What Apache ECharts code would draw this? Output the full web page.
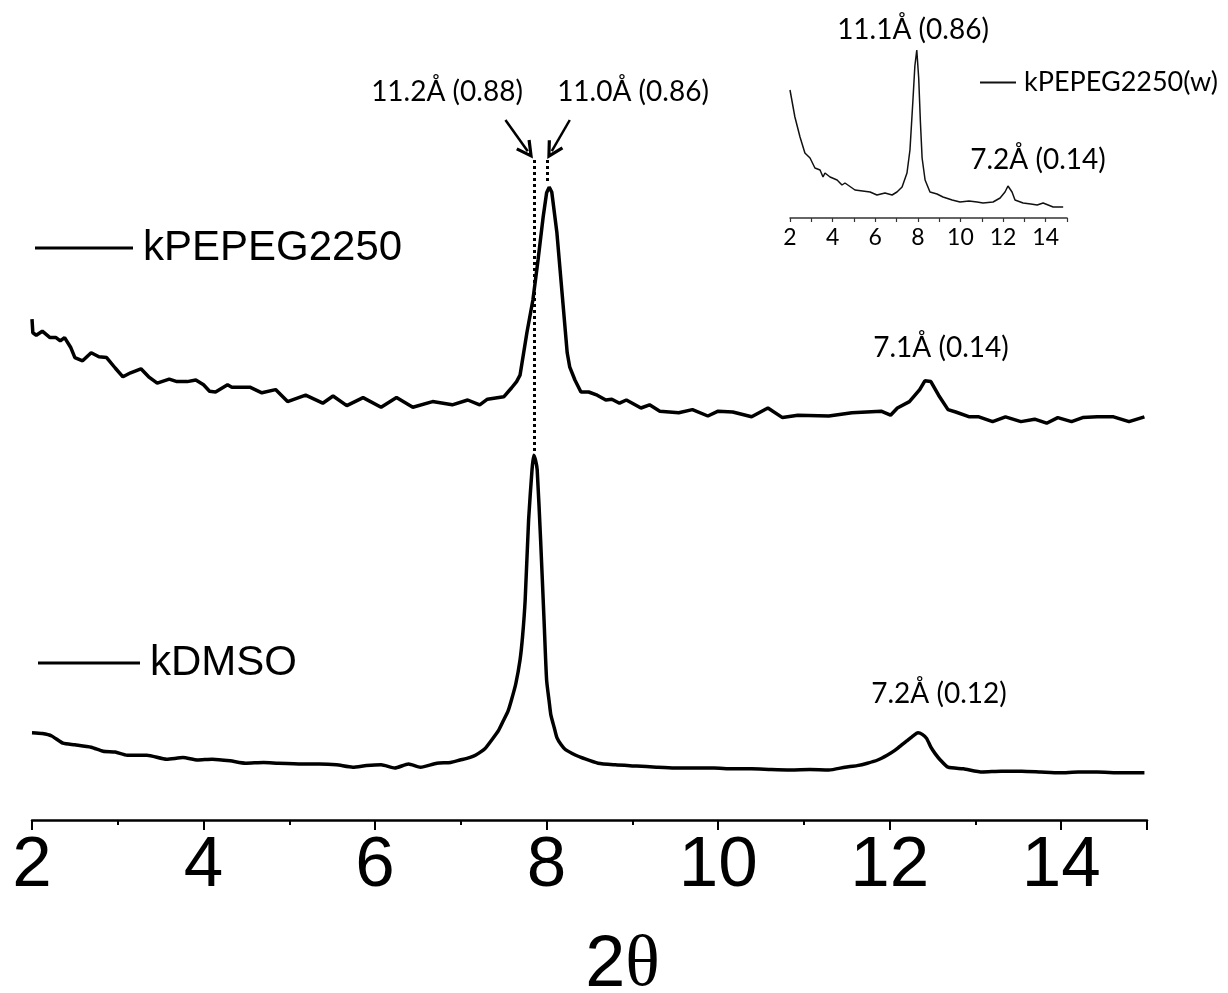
<!DOCTYPE html>
<html>
<head>
<meta charset="utf-8">
<title>XRD patterns</title>
<script src="https://cdn.jsdelivr.net/npm/echarts@6/dist/echarts.min.js"></script>
<style>
  html, body { margin: 0; padding: 0; background: #fff; }
  #chart { width: 1228px; height: 993px; }
</style>
</head>
<body>
<div id="chart"></div>
<script>
// Diffraction patterns, intensity in arbitrary units (curves offset vertically)
const xTickLabels = [2, 4, 6, 8, 10, 12, 14];

const pepegTheta = [2.00, 2.01, 2.05, 2.12, 2.21, 2.28, 2.33, 2.38, 2.45, 2.50, 2.59, 2.69, 2.78, 2.87, 2.97,
  3.06, 3.15, 3.27, 3.36, 3.46, 3.60, 3.69, 3.81, 3.91, 4.00, 4.07, 4.14, 4.28, 4.33, 4.54, 4.68, 4.84,
  4.98, 5.19, 5.39, 5.51, 5.67, 5.86, 6.07, 6.25, 6.44, 6.67, 6.90, 7.08, 7.22, 7.31, 7.50, 7.59, 7.65,
  7.69, 7.77, 7.84, 7.90, 7.96, 8.00, 8.03, 8.06, 8.12, 8.18, 8.24, 8.27, 8.33, 8.40, 8.49, 8.59, 8.69,
  8.76, 8.85, 8.93, 9.10, 9.20, 9.32, 9.54, 9.70, 9.88, 10.00, 10.17, 10.39, 10.58, 10.75, 10.93, 11.29,
  11.56, 11.90, 12.01, 12.09, 12.23, 12.35, 12.41, 12.48, 12.57, 12.68, 12.77, 12.93, 13.04, 13.20,
  13.35, 13.53, 13.69, 13.83, 13.96, 14.12, 14.25, 14.42, 14.61, 14.79, 14.97];
const pepegCounts = [62.6, 60.9, 60.6, 61.1, 60.3, 60.3, 59.9, 60.3, 59.1, 57.8, 57.4, 58.4, 57.9, 57.8, 56.5,
  55.4, 55.9, 56.4, 55.4, 54.6, 55.1, 54.8, 54.8, 55.0, 54.4, 53.6, 53.5, 54.4, 54.1, 54.1, 53.4, 53.8,
  52.3, 53.1, 52.1, 53.0, 51.8, 52.8, 51.6, 52.8, 51.6, 52.3, 51.9, 52.5, 51.9, 52.6, 52.9, 54.0, 54.8,
  55.6, 60.9, 65.0, 70.0, 75.4, 78.4, 79.1, 78.5, 73.4, 65.9, 58.4, 56.6, 55.0, 53.5, 53.5, 53.1, 52.5,
  52.6, 52.1, 52.5, 51.5, 51.9, 51.1, 50.9, 51.3, 50.5, 51.1, 51.0, 50.4, 51.5, 50.3, 50.6, 50.5,
  50.9, 51.1, 50.6, 51.5, 52.3, 53.8, 54.9, 54.8, 53.1, 51.3, 51.0, 50.4, 50.4, 49.8,
  50.4, 49.8, 50.1, 49.6, 50.3, 49.8, 50.3, 50.4, 50.4, 49.8, 50.4];

const dmsoTheta = [2.00, 2.12, 2.23, 2.36, 2.50, 2.69, 2.83, 2.97, 3.11, 3.34, 3.57, 3.76, 3.93, 4.10, 4.31,
  4.49, 4.70, 4.87, 5.15, 5.35, 5.55, 5.74, 5.90, 6.07, 6.23, 6.39, 6.53, 6.72, 6.88, 6.99, 7.10, 7.17,
  7.28, 7.36, 7.44, 7.50, 7.55, 7.59, 7.64, 7.69, 7.72, 7.75, 7.79, 7.83, 7.85, 7.87, 7.89, 7.93, 7.97,
  8.00, 8.03, 8.05, 8.09, 8.12, 8.17, 8.22, 8.34, 8.42, 8.60, 8.80, 9.05, 9.28, 9.49, 9.72, 9.95, 10.17,
  10.39, 10.62, 10.85, 11.07, 11.29, 11.48, 11.62, 11.74, 11.86, 11.97, 12.06, 12.14, 12.20, 12.26,
  12.33, 12.38, 12.43, 12.48, 12.53, 12.59, 12.68, 12.86, 13.08, 13.30, 13.54, 13.76, 13.98, 14.20,
  14.42, 14.70, 14.97];
const dmsoCounts = [10.9, 10.8, 10.5, 9.6, 9.4, 9.1, 8.6, 8.5, 8.1, 8.1, 7.6, 7.8, 7.5, 7.6, 7.4,
  7.1, 7.2, 7.1, 7.0, 7.0, 6.9, 6.6, 6.8, 6.9, 6.5, 7.0, 6.6, 7.1, 7.2, 7.5, 7.8, 8.1,
  8.9, 10.0, 11.2, 12.5, 13.6, 15.0, 17.0, 20.0, 23.0, 27.5, 37.5, 43.8, 45.6, 45.0, 43.8, 35.0, 25.0,
  17.5, 14.8, 13.1, 11.5, 10.3, 9.4, 8.8, 8.1, 7.75, 7.1, 6.9, 6.75, 6.6, 6.5, 6.5, 6.5, 6.4,
  6.4, 6.3, 6.25, 6.3, 6.25, 6.6, 6.8, 7.1, 7.5, 8.1, 8.7, 9.4, 9.9, 10.4,
  10.9, 10.7, 10.2, 9.1, 8.3, 7.5, 6.6, 6.4, 6.0, 6.1, 6.1, 6.0, 5.9, 6.0,
  6.0, 5.9, 5.9];

// Inset: kPEPEG2250(w)
const wetTheta = [2.00, 2.23, 2.47, 2.70, 2.94, 3.17, 3.41, 3.55, 3.64, 3.88, 4.21, 4.44, 4.58, 5.05, 5.76,
  6.08, 6.46, 6.79, 7.02, 7.26, 7.49, 7.63, 7.77, 7.86, 7.95, 8.04, 8.12, 8.20, 8.34, 8.57, 8.90, 9.18,
  9.61, 9.98, 10.40, 10.78, 11.06, 11.53, 11.86, 12.09, 12.23, 12.42, 12.56, 12.94, 13.30, 13.60, 13.88,
  14.35, 14.82];
const wetCounts = [64, 50.5, 40.5, 32.5, 30, 25, 24, 20.5, 22.5, 20.5, 19, 16.5, 17.5, 14, 13,
  11.5, 12.5, 11.5, 13, 15.5, 22.5, 34, 59, 76, 84, 70, 48, 30, 19, 13, 12, 10.5,
  9, 8, 8.5, 8, 7.5, 8, 10, 13, 16, 13, 9, 7.5, 7, 6.5, 7.5,
  5.5, 5.5];

// Peak markers: dotted drop lines and the arrows pointing at them
const dropLines = [
  [[7.85, 82.5], [7.85, 45.9]],
  [[8.01, 82.5], [8.01, 79.6]]
];
const arrows = [
  [[7.52, 87.5], [7.78, 83.6]],
  [[8.27, 87.5], [8.06, 83.6]]
];

const zip = (xs, ys) => xs.map((x, i) => [x, ys[i]]);

const chart = echarts.init(document.getElementById('chart'), null, { renderer: 'canvas' });

const textFont = 'Lato, "Open Sans", sans-serif';
const sansFont = '"Liberation Sans", Arial, sans-serif';
const axisFont = '"Liberation Sans Narrow", "Liberation Sans", Arial, sans-serif';

// open chevron head, tip pointing along the line
const chevron = 'path://M5,0 L10,9 L8.4,9.8 L5,3.6 L1.6,9.8 L0,9 Z';

const annot = (text, x, y, size) => ({
  type: 'text', x: x, y: y,
  style: { text: text, fill: '#000', font: size + 'px ' + textFont, textAlign: 'center', textVerticalAlign: 'middle' }
});

chart.setOption({
  animation: false,
  backgroundColor: '#fff',
  grid: [
    { left: 32, right: 81, top: 20, bottom: 173, outerBoundsMode: 'none', containLabel: false },
    { left: 790, right: 161, top: 18, bottom: 775, outerBoundsMode: 'none', containLabel: false }
  ],
  xAxis: [
    { // major ticks and labels
      type: 'value', gridIndex: 0, position: 'bottom', min: 2, max: 15, interval: 2,
      axisLine: { lineStyle: { color: '#000', width: 2.5 } },
      axisTick: { length: 10, lineStyle: { color: '#000', width: 2 } },
      splitLine: { show: false },
      axisLabel: {
        color: '#000', fontFamily: axisFont, fontSize: 71, margin: 11,
        formatter: v => (xTickLabels.indexOf(v) >= 0 ? String(v) : '')
      },
      name: '{a|2}{b|θ}', nameLocation: 'middle', nameGap: 110,
      nameTextStyle: {
        padding: [0, 0, 0, 66],
        rich: {
          a: { fontFamily: axisFont, fontSize: 72, color: '#000' },
          b: { fontFamily: '"Liberation Serif", "DejaVu Serif", serif', fontSize: 72, color: '#000' }
        }
      }
    },
    { // minor ticks
      type: 'value', gridIndex: 0, position: 'bottom', offset: 0, min: 2, max: 15, interval: 1,
      axisLine: { show: false },
      axisTick: { length: 5, lineStyle: { color: '#000', width: 2 } },
      axisLabel: { show: false },
      splitLine: { show: false }
    },
    { // inset axis
      type: 'value', gridIndex: 1, position: 'bottom', min: 2, max: 15, interval: 1,
      axisLine: { lineStyle: { color: '#333', width: 1.5 } },
      axisTick: { length: 4, lineStyle: { color: '#333', width: 1.2 } },
      splitLine: { show: false },
      axisLabel: {
        color: '#000', fontFamily: textFont, fontSize: 23, margin: 8,
        formatter: v => (xTickLabels.indexOf(v) >= 0 ? String(v) : '')
      }
    }
  ],
  yAxis: [
    { type: 'value', gridIndex: 0, min: 0, max: 100, show: false },
    { type: 'value', gridIndex: 1, min: 0, max: 100, show: false }
  ],
  legend: [
    {
      data: ['kPEPEG2250'], left: 30, top: 222, icon: 'rect', itemWidth: 98, itemHeight: 3, itemGap: 0,
      textStyle: { fontFamily: sansFont, fontSize: 42, color: '#000', padding: [0, 0, 0, 5] }
    },
    {
      data: ['kDMSO'], left: 33, top: 637, icon: 'rect', itemWidth: 102, itemHeight: 3, itemGap: 0,
      textStyle: { fontFamily: sansFont, fontSize: 42, color: '#000', padding: [0, 0, 0, 5] }
    },
    {
      data: ['kPEPEG2250(w)'], left: 975, top: 64, icon: 'rect', itemWidth: 36, itemHeight: 2, itemGap: 0,
      textStyle: { fontFamily: textFont, fontSize: 27, color: '#000', padding: [0, 0, 0, 3] }
    }
  ],
  series: [
    {
      name: 'kPEPEG2250', type: 'line', xAxisIndex: 0, yAxisIndex: 0,
      data: zip(pepegTheta, pepegCounts), symbol: 'none', smooth: false,
      lineStyle: { color: '#000', width: 3.5 }, itemStyle: { color: '#000' }
    },
    {
      name: 'kDMSO', type: 'line', xAxisIndex: 0, yAxisIndex: 0,
      data: zip(dmsoTheta, dmsoCounts), symbol: 'none', smooth: 0.2,
      lineStyle: { color: '#000', width: 3.5 }, itemStyle: { color: '#000' }
    },
    {
      name: 'kPEPEG2250(w)', type: 'line', xAxisIndex: 2, yAxisIndex: 1,
      data: zip(wetTheta, wetCounts), symbol: 'none', smooth: false,
      lineStyle: { color: '#111', width: 1.5 }, itemStyle: { color: '#111' }
    },
    {
      type: 'lines', coordinateSystem: 'cartesian2d', xAxisIndex: 0, yAxisIndex: 0,
      data: dropLines.map(c => ({ coords: c })), symbol: 'none',
      lineStyle: { color: '#000', width: 3, type: [3, 3], opacity: 1 }, silent: true
    },
    {
      type: 'lines', coordinateSystem: 'cartesian2d', xAxisIndex: 0, yAxisIndex: 0,
      data: arrows.map(c => ({ coords: c })), symbol: ['none', chevron], symbolSize: 18,
      lineStyle: { color: '#000', width: 2.5, opacity: 1 }, silent: true
    }
  ],
  graphic: [
    annot('11.2Å (0.88)', 447, 92, 28),
    annot('11.0Å (0.86)', 633, 92, 28),
    annot('7.1Å (0.14)', 941, 348, 28),
    annot('7.2Å (0.12)', 939, 694, 28),
    annot('11.1Å (0.86)', 913, 30, 28),
    annot('7.2Å (0.14)', 1038, 160, 28)
  ]
});
</script>
</body>
</html>
